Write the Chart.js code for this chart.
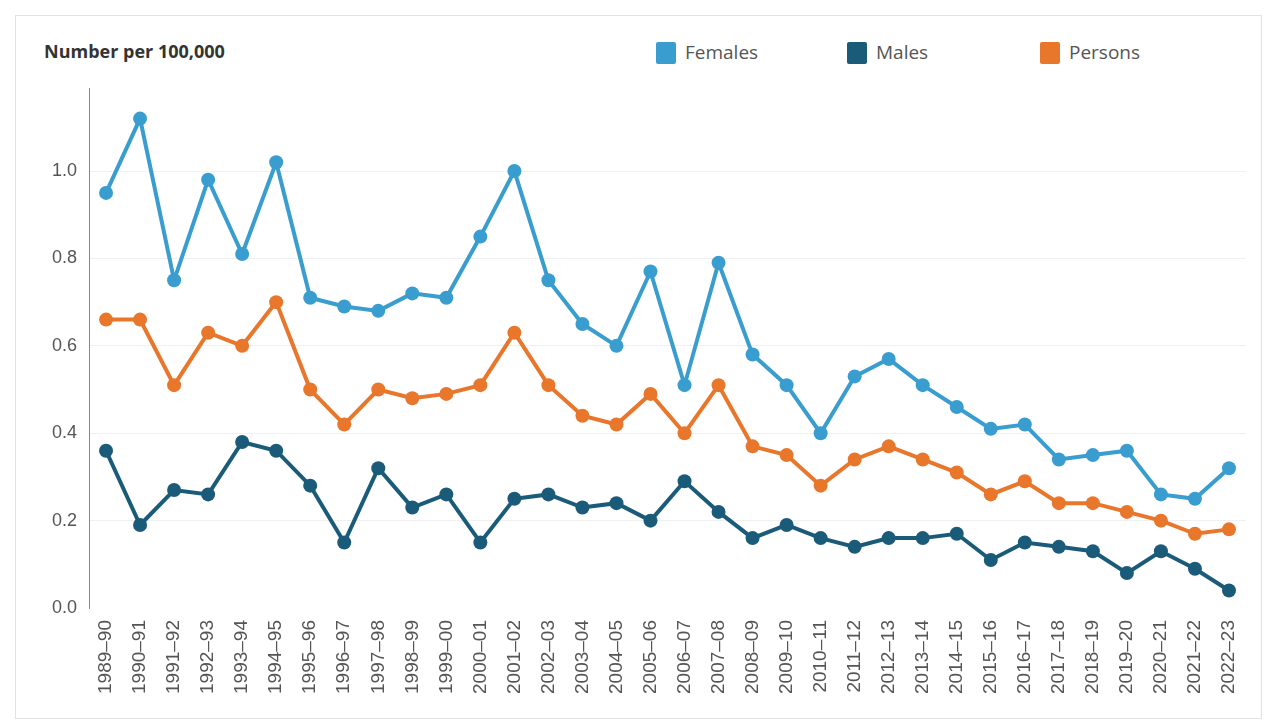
<!DOCTYPE html>
<html>
<head>
<meta charset="utf-8">
<script src="https://cdn.jsdelivr.net/npm/chart.js@4.4.1/dist/chart.umd.min.js"></script>
<style>
  html, body { margin: 0; padding: 0; background: #fff; }
  #wrap { position: relative; width: 1280px; height: 726px; }
  #frame { position: absolute; left: 15px; top: 15px; width: 1247px; height: 704px; border: 1px solid #e2e2e2; box-sizing: border-box; }
  #title { position: absolute; left: 44px; top: 39px; font: bold 18px "Open Sans", sans-serif; color: #333; }
  .leg { position: absolute; top: 39px; font: 19px "Open Sans", sans-serif; color: #555; line-height: 26px; }
  .leg span { display: inline-block; width: 20px; height: 22px; vertical-align: -5px; margin-right: 9px; border-radius: 2px; }
  canvas { position: absolute; left: 0; top: 0; }
</style>
</head>
<body>
<div id="wrap">
  <div id="frame"></div>
  <div id="title">Number per 100,000</div>
  <div id="legend"></div>
  <canvas id="chart" width="1280" height="726"></canvas>
</div>
<script>
// Daten
const jahre = ["1989–90","1990–91","1991–92","1992–93","1993–94","1994–95","1995–96","1996–97","1997–98","1998–99",
  "1999–00","2000–01","2001–02","2002–03","2003–04","2004–05","2005–06","2006–07","2007–08","2008–09",
  "2009–10","2010–11","2011–12","2012–13","2013–14","2014–15","2015–16","2016–17","2017–18","2018–19",
  "2019–20","2020–21","2021–22","2022–23"];

const females = [0.95,1.12,0.75,0.98,0.81,1.02,0.71,0.69,0.68,0.72,
  0.71,0.85,1.00,0.75,0.65,0.60,0.77,0.51,0.79,0.58,
  0.51,0.40,0.53,0.57,0.51,0.46,0.41,0.42,0.34,0.35,
  0.36,0.26,0.25,0.32];

const males = [0.36,0.19,0.27,0.26,0.38,0.36,0.28,0.15,0.32,0.23,
  0.26,0.15,0.25,0.26,0.23,0.24,0.20,0.29,0.22,0.16,
  0.19,0.16,0.14,0.16,0.16,0.17,0.11,0.15,0.14,0.13,
  0.08,0.13,0.09,0.04];

const persons = [0.66,0.66,0.51,0.63,0.60,0.70,0.50,0.42,0.50,0.48,
  0.49,0.51,0.63,0.51,0.44,0.42,0.49,0.40,0.51,0.37,
  0.35,0.28,0.34,0.37,0.34,0.31,0.26,0.29,0.24,0.24,
  0.22,0.20,0.17,0.18];

const yTicks = [0, 0.2, 0.4, 0.6, 0.8, 1.0];

const serien = [
  { name: "Females", werte: females, farbe: "#3a9dcf" },
  { name: "Males", werte: males, farbe: "#1b5b7a" },
  { name: "Persons", werte: persons, farbe: "#e8762b" }
];

// Legende als HTML
const legX = [656, 847, 1040];
const legend = document.getElementById("legend");
serien.forEach((s, i) => {
  const d = document.createElement("div");
  d.className = "leg";
  d.style.left = legX[i] + "px";
  d.innerHTML = '<span style="background:' + s.farbe + '"></span>' + s.name;
  legend.appendChild(d);
});

const datasets = serien.map(s => ({
  label: s.name,
  data: s.werte,
  borderColor: s.farbe,
  backgroundColor: s.farbe,
  borderWidth: 4,
  pointRadius: 7,
  pointHoverRadius: 7,
  pointBorderWidth: 0,
  tension: 0
}));

new Chart(document.getElementById("chart"), {
  type: "line",
  data: { labels: jahre, datasets: datasets },
  options: {
    responsive: false,
    animation: false,
    layout: { padding: { left: 40, right: 34, top: 88, bottom: 28 } },
    plugins: { legend: { display: false }, tooltip: { enabled: false } },
    scales: {
      x: {
        offset: true,
        grid: { display: false },
        border: { display: false },
        ticks: {
          minRotation: 90,
          maxRotation: 90,
          autoSkip: false,
          padding: 4,
          color: "#555",
          font: { family: "Liberation Sans", size: 19 }
        }
      },
      y: {
        min: 0,
        max: 1.19,
        afterBuildTicks: axis => { axis.ticks = yTicks.map(v => ({ value: v })); },
        grid: {
          color: ctx => ctx.tick && ctx.tick.value === 0 ? "rgba(0,0,0,0)" : "#f0f0f0",
          drawTicks: false
        },
        border: { display: true, color: "#888", width: 1 },
        ticks: {
          padding: 12,
          color: "#555",
          font: { family: "Liberation Sans", size: 18 },
          callback: v => v.toFixed(1)
        }
      }
    }
  }
});
</script>
</body>
</html>
